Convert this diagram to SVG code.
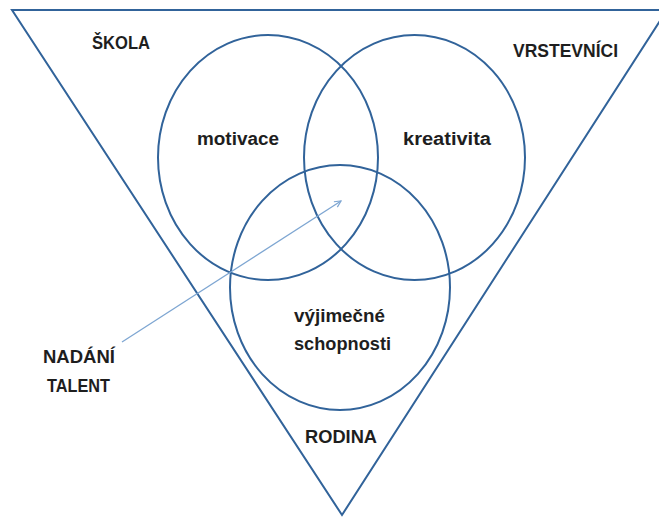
<svg xmlns="http://www.w3.org/2000/svg" width="659" height="517" viewBox="0 0 659 517">
<style>
.shape{fill:none;stroke:#31639a;stroke-width:2}
.lbl{font-family:"Liberation Sans",Arial,sans-serif;font-weight:bold;font-size:18px;fill:#1e1e1e}
.conn{fill:none;stroke:#7ea6d2;stroke-width:1.3}
</style>
<defs>
<marker id="ah" viewBox="0 0 10 10" refX="9" refY="5" markerWidth="8" markerHeight="8" markerUnits="userSpaceOnUse" orient="auto">
<polyline points="1,1 9,5 1,9" fill="none" stroke="#7ea6d2" stroke-width="1.5"/>
</marker>
</defs>
<rect width="659" height="517" fill="#ffffff"/>
<g id="triangle">
<polygon class="shape" points="12,10 667,10 342,515"/>
</g>
<g id="motivace">
<ellipse class="shape" cx="268" cy="157.5" rx="110" ry="122.5"/>
<text class="lbl" x="197" y="145" textLength="82" lengthAdjust="spacingAndGlyphs">motivace</text>
</g>
<g id="kreativita">
<ellipse class="shape" cx="414.5" cy="157.5" rx="110.5" ry="122.5"/>
<text class="lbl" x="403" y="145" textLength="88" lengthAdjust="spacingAndGlyphs">kreativita</text>
</g>
<g id="schopnosti">
<ellipse class="shape" cx="340" cy="287.5" rx="110" ry="122.5"/>
<text class="lbl" x="294" y="322" textLength="91" lengthAdjust="spacingAndGlyphs">výjimečné</text>
<text class="lbl" x="294" y="350" textLength="97" lengthAdjust="spacingAndGlyphs">schopnosti</text>
</g>
<g id="skola"><text class="lbl" x="92" y="49" textLength="58" lengthAdjust="spacingAndGlyphs">ŠKOLA</text></g>
<g id="vrstevnici"><text class="lbl" x="513" y="57" textLength="105" lengthAdjust="spacingAndGlyphs">VRSTEVNÍCI</text></g>
<g id="rodina"><text class="lbl" x="305" y="443" textLength="72" lengthAdjust="spacingAndGlyphs">RODINA</text></g>
<g id="nadani">
<text class="lbl" x="43" y="363" textLength="72" lengthAdjust="spacingAndGlyphs">NADÁNÍ</text>
<text class="lbl" x="47" y="392" textLength="63" lengthAdjust="spacingAndGlyphs">TALENT</text>
</g>
<g id="connectors">
<line class="conn" x1="122" y1="342" x2="341" y2="201" marker-end="url(#ah)"/>
</g>
</svg>
